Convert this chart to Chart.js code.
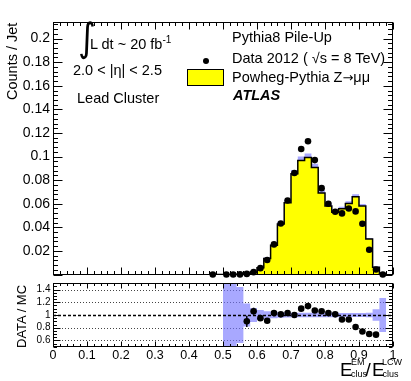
<!DOCTYPE html>
<html>
<head>
<meta charset="utf-8">
<script src="https://cdn.jsdelivr.net/npm/chart.js@4.4.0/dist/chart.umd.min.js"></script>
<style>
  body { margin: 0; background: #fff; }
  #wrap { position: relative; width: 411px; height: 381px; overflow: hidden;
          font-family: 'Liberation Sans', Arial, sans-serif; color: #000; }
  canvas { position: absolute; left: 0; }
  .t { position: absolute; white-space: nowrap; line-height: 1; }
  .rot { transform-origin: left top; transform: rotate(-90deg); }
</style>
</head>
<body>
<div id="wrap">
  <canvas id="main" width="411" height="280" style="top:0"></canvas>
  <canvas id="ratio" width="411" height="103" style="top:278px"></canvas>

  <div class="t" style="left:78px;top:20px;font-size:34px;font-family:'DejaVu Sans';transform:scaleY(1.15);">∫</div>
  <div class="t" style="left:90px;top:36.7px;font-size:14.5px;">L dt ~ 20 fb<span style="font-size:10px;position:relative;top:-6px;">-1</span></div>
  <div class="t" style="left:73px;top:62.7px;font-size:14.5px;">2.0 &lt; |η| &lt; 2.5</div>
  <div class="t" style="left:77px;top:90.7px;font-size:14.5px;">Lead Cluster</div>

  <div class="t" style="left:232px;top:29.7px;font-size:14.5px;">Pythia8 Pile-Up</div>
  <div style="position:absolute;left:203px;top:57.7px;width:6px;height:6px;border-radius:50%;background:#000;"></div>
  <div class="t" style="left:232px;top:50.7px;font-size:14.5px;">Data 2012 ( √s = 8 TeV)</div>
  <div style="position:absolute;left:187px;top:69px;width:37px;height:17px;box-sizing:border-box;background:#ffff00;border:1px solid #000;"></div>
  <div class="t" style="left:232px;top:69.7px;font-size:14.5px;">Powheg-Pythia Z<span style="font-family:'DejaVu Sans';font-size:13px;">→</span>μμ</div>
  <div class="t" style="left:233px;top:87.7px;font-size:14.5px;font-weight:bold;font-style:italic;">ATLAS</div>

  <div class="t rot" style="left:4.5px;top:100px;font-size:14.5px;">Counts / Jet</div>
  <div class="t rot" style="left:14.5px;top:348px;font-size:13px;">DATA / MC</div>

  <div class="t" style="left:340px;top:360px;font-size:19px;">E</div>
  <div class="t" style="left:351px;top:358px;font-size:9px;">EM</div>
  <div class="t" style="left:351px;top:369.5px;font-size:9px;">clus</div>
  <div class="t" style="left:365.5px;top:360px;font-size:19px;">/</div>
  <div class="t" style="left:372px;top:360px;font-size:19px;">E</div>
  <div class="t" style="left:382px;top:358px;font-size:9px;">LCW</div>
  <div class="t" style="left:382.5px;top:369.5px;font-size:9px;">clus</div>
</div>

<script>
// bins of E_clus^EM / E_clus^LCW, width 0.02
const binEdges = [0.46, 0.48, 0.50, 0.52, 0.54, 0.56, 0.58, 0.60, 0.62, 0.64, 0.66, 0.68, 0.70,
                  0.72, 0.74, 0.76, 0.78, 0.80, 0.82, 0.84, 0.86, 0.88, 0.90, 0.92, 0.94, 0.96, 0.98];

// Powheg-Pythia Z->mumu, counts / jet
const mcCounts = [0, 0, 0.0001, 0.0001, 0.0002, 0.0008, 0.0019, 0.0057, 0.0135, 0.0248, 0.0428, 0.0609, 0.0855,
                  0.0967, 0.0991, 0.0907, 0.069, 0.058, 0.0527, 0.0557, 0.0602, 0.066, 0.058, 0.030, 0.0062, 0.0008];

// relative MC uncertainty (blue band)
const mcRelErr = [null, null, 0.6, 0.6, 0.44, 0.18, 0.11, 0.08, 0.06, 0.05, 0.045, 0.04, 0.035,
                  0.035, 0.035, 0.035, 0.035, 0.035, 0.035, 0.03, 0.03, 0.03, 0.03, 0.035, 0.09, 0.27];

// Data 2012, counts / jet
const dataCounts = [0, null, 0, 0, 0.0001, 0.0005, 0.002, 0.0054, 0.0123, 0.0255, 0.0432, 0.0627, 0.086,
                    0.1064, 0.113, 0.097, 0.0732, 0.060, 0.0532, 0.0518, 0.056, 0.0535, 0.043, 0.021, 0.0043, 0];

// DATA / MC
const ratioValues = [null, null, null, null, null, 0.90, 1.06, 0.95, 0.91, 1.03, 1.01, 1.03, 1.00,
                     1.10, 1.14, 1.07, 1.06, 1.03, 1.01, 0.93, 0.93, 0.81, 0.74, 0.70, 0.69, null];
const ratioErrors = [null, null, null, null, null, 0.09, 0.055, 0.03, 0.02, 0.015, 0.012, 0.012, 0.01,
                     0.01, 0.01, 0.01, 0.012, 0.012, 0.012, 0.012, 0.012, 0.012, 0.015, 0.02, 0.04, null];

const mainTicks = [0.02, 0.04, 0.06, 0.08, 0.1, 0.12, 0.14, 0.16, 0.18, 0.2];
const ratioTicks = [0.6, 0.8, 1, 1.2, 1.4];
const xTicks = [0, 0.1, 0.2, 0.3, 0.4, 0.5, 0.6, 0.7, 0.8, 0.9, 1];

const FONT = "'Liberation Sans', Arial, sans-serif";
const YELLOW = '#ffff00';
const BAND = 'rgba(115,115,255,0.62)';

// histogram as step line: one point per left edge + closing point at last edge
function steps(vals) {
  const pts = [];
  vals.forEach((v, i) => { if (v != null) pts.push({ x: binEdges[i], y: v }); });
  const last = vals.length - 1;
  pts.push({ x: binEdges[last + 1], y: vals[last] });
  return pts;
}
function centres(vals, errs) {
  const pts = [];
  vals.forEach((v, i) => {
    if (v == null) return;
    pts.push({ x: (binEdges[i] + binEdges[i + 1]) / 2, y: v, e: errs ? errs[i] : 0 });
  });
  return pts;
}
const mcHi = mcCounts.map((v, i) => mcRelErr[i] == null ? null : v * (1 + mcRelErr[i]));
const mcLo = mcCounts.map((v, i) => mcRelErr[i] == null ? null : v * (1 - mcRelErr[i]));
const rHi = mcRelErr.map(e => e == null ? null : 1 + e);
const rLo = mcRelErr.map(e => e == null ? null : 1 - e);

// ROOT style frame: inward ticks on all four sides, dotted grid, error bars
const rootFrame = {
  id: 'rootFrame',
  beforeDatasetsDraw(chart, args, o) {
    if (!o.grid) return;
    const { ctx, chartArea: a, scales: { y } } = chart;
    ctx.save();
    ctx.strokeStyle = '#444'; ctx.lineWidth = 1; ctx.setLineDash([1, 2]);
    o.grid.forEach(v => {
      const py = Math.round(y.getPixelForValue(v)) + 0.5;
      ctx.beginPath(); ctx.moveTo(a.left, py); ctx.lineTo(a.right, py); ctx.stroke();
    });
    ctx.restore();
  },
  afterDatasetDraw(chart, args, o) {
    const ds = chart.data.datasets[args.index];
    const { ctx, chartArea: a, scales: { y } } = chart;
    ctx.save();
    if (ds.refAfter && o.refLine != null) {
      const py = Math.round(y.getPixelForValue(o.refLine)) + 0.5;
      ctx.strokeStyle = '#000'; ctx.lineWidth = 1.5; ctx.setLineDash([3, 2]);
      ctx.beginPath(); ctx.moveTo(a.left, py); ctx.lineTo(a.right, py); ctx.stroke();
    }
    if (ds.errBars) {
      ctx.strokeStyle = '#000'; ctx.lineWidth = 1.5; ctx.setLineDash([]);
      args.meta.data.forEach((pt, i) => {
        const d = ds.data[i];
        if (!d.e) return;
        ctx.beginPath();
        ctx.moveTo(pt.x, y.getPixelForValue(d.y - d.e));
        ctx.lineTo(pt.x, y.getPixelForValue(d.y + d.e));
        ctx.stroke();
      });
    }
    ctx.restore();
  },
  afterDraw(chart, args, o) {
    const { ctx, chartArea: a, scales: { x, y } } = chart;
    ctx.save();
    ctx.strokeStyle = '#000'; ctx.lineWidth = 1;
    const L = Math.round(a.left) + 0.5, R = Math.round(a.right) - 0.5;
    const T = Math.round(a.top) + 0.5, B = Math.round(a.bottom) - 0.5;
    ctx.strokeRect(L, T, R - L, B - T);
    ctx.beginPath();
    for (let k = Math.ceil(x.min / o.xMinor - 1e-6); k <= Math.floor(x.max / o.xMinor + 1e-6); k++) {
      const px = Math.round(x.getPixelForValue(k * o.xMinor)) + 0.5;
      const len = k % o.xEvery === 0 ? o.xMajorLen : o.xMinorLen;
      ctx.moveTo(px, B); ctx.lineTo(px, B - len);
      ctx.moveTo(px, T); ctx.lineTo(px, T + len);
    }
    for (let k = Math.ceil(y.min / o.yMinor - 1e-6); k <= Math.floor(y.max / o.yMinor + 1e-6); k++) {
      const py = Math.round(y.getPixelForValue(k * o.yMinor)) + 0.5;
      const len = k % o.yEvery === 0 ? o.yMajorLen : o.yMinorLen;
      ctx.moveTo(L, py); ctx.lineTo(L + len, py);
      ctx.moveTo(R, py); ctx.lineTo(R - len, py);
    }
    ctx.stroke();
    ctx.restore();
  }
};

const fmt = d => v => String(Number(Number(v).toFixed(d)));
// fixed axis box, no automatic edge padding from labels
const fixY = s => { s.width = 53; s.paddingTop = 0; s.paddingBottom = 0; };
const fixX = s => { s.height = 20; s.paddingLeft = 0; s.paddingRight = 0; };

new Chart(document.getElementById('main'), {
  type: 'line',
  data: {
    datasets: [
      { data: steps(mcHi), stepped: 'before', borderWidth: 0, pointRadius: 0, backgroundColor: BAND, fill: '+1', order: 4 },
      { data: steps(mcLo), stepped: 'before', borderWidth: 0, pointRadius: 0, fill: false, order: 4 },
      { data: steps(mcCounts), stepped: 'before', borderColor: '#000', borderWidth: 1.5, pointRadius: 0,
        backgroundColor: YELLOW, fill: 'origin', order: 2 },
      { data: centres(dataCounts), showLine: false, pointRadius: 3.3, pointBackgroundColor: '#000',
        pointBorderWidth: 0, clip: false, order: 0 }
    ]
  },
  options: {
    responsive: false, animation: false, devicePixelRatio: 1,
    layout: { padding: { left: 0, right: 18, top: 21.5, bottom: 5.5 } },
    scales: {
      x: { type: 'linear', min: 0, max: 1, display: false },
      y: {
        min: 0, max: 0.2145,
        grid: { display: false, drawTicks: false }, border: { display: false },
        afterBuildTicks: s => { s.ticks = mainTicks.map(v => ({ value: v })); },
        afterFit: fixY,
        ticks: { font: { family: FONT, size: 14 }, color: '#000', padding: 3, callback: fmt(2) }
      }
    },
    plugins: {
      legend: { display: false }, tooltip: { enabled: false },
      rootFrame: { xMinor: 0.02, xEvery: 5, xMajorLen: 7, xMinorLen: 3.5,
                   yMinor: 0.004, yEvery: 5, yMajorLen: 9, yMinorLen: 4.5 }
    }
  },
  plugins: [rootFrame]
});

new Chart(document.getElementById('ratio'), {
  type: 'line',
  data: {
    datasets: [
      { data: steps(rHi), stepped: 'before', borderWidth: 0, pointRadius: 0, backgroundColor: BAND, fill: '+1',
        order: 4, refAfter: true },
      { data: steps(rLo), stepped: 'before', borderWidth: 0, pointRadius: 0, fill: false, order: 5 },
      { data: centres(ratioValues, ratioErrors), showLine: false, pointRadius: 3.3, pointBackgroundColor: '#000',
        pointBorderWidth: 0, order: 0, errBars: true }
    ]
  },
  options: {
    responsive: false, animation: false, devicePixelRatio: 1,
    layout: { padding: { left: 0, right: 18, top: 5.3, bottom: 14.3 } },
    scales: {
      x: {
        type: 'linear', min: 0, max: 1,
        grid: { display: false, drawTicks: false }, border: { display: false },
        afterBuildTicks: s => { s.ticks = xTicks.map(v => ({ value: v })); },
        afterFit: fixX,
        ticks: { font: { family: FONT, size: 12.5 }, color: '#000', padding: 1, autoSkip: false, maxRotation: 0,
                 callback: fmt(1) }
      },
      y: {
        min: 0.5, max: 1.5,
        grid: { display: false, drawTicks: false }, border: { display: false },
        afterBuildTicks: s => { s.ticks = ratioTicks.map(v => ({ value: v })); },
        afterFit: fixY,
        ticks: { font: { family: FONT, size: 10 }, color: '#000', padding: 2.5, callback: fmt(1) }
      }
    },
    plugins: {
      legend: { display: false }, tooltip: { enabled: false },
      rootFrame: { xMinor: 0.02, xEvery: 5, xMajorLen: 5, xMinorLen: 2.5,
                   yMinor: 0.05, yEvery: 4, yMajorLen: 7, yMinorLen: 3.5,
                   grid: [0.6, 0.8, 1.2, 1.4], refLine: 1 }
    }
  },
  plugins: [rootFrame]
});
</script>
</body>
</html>
